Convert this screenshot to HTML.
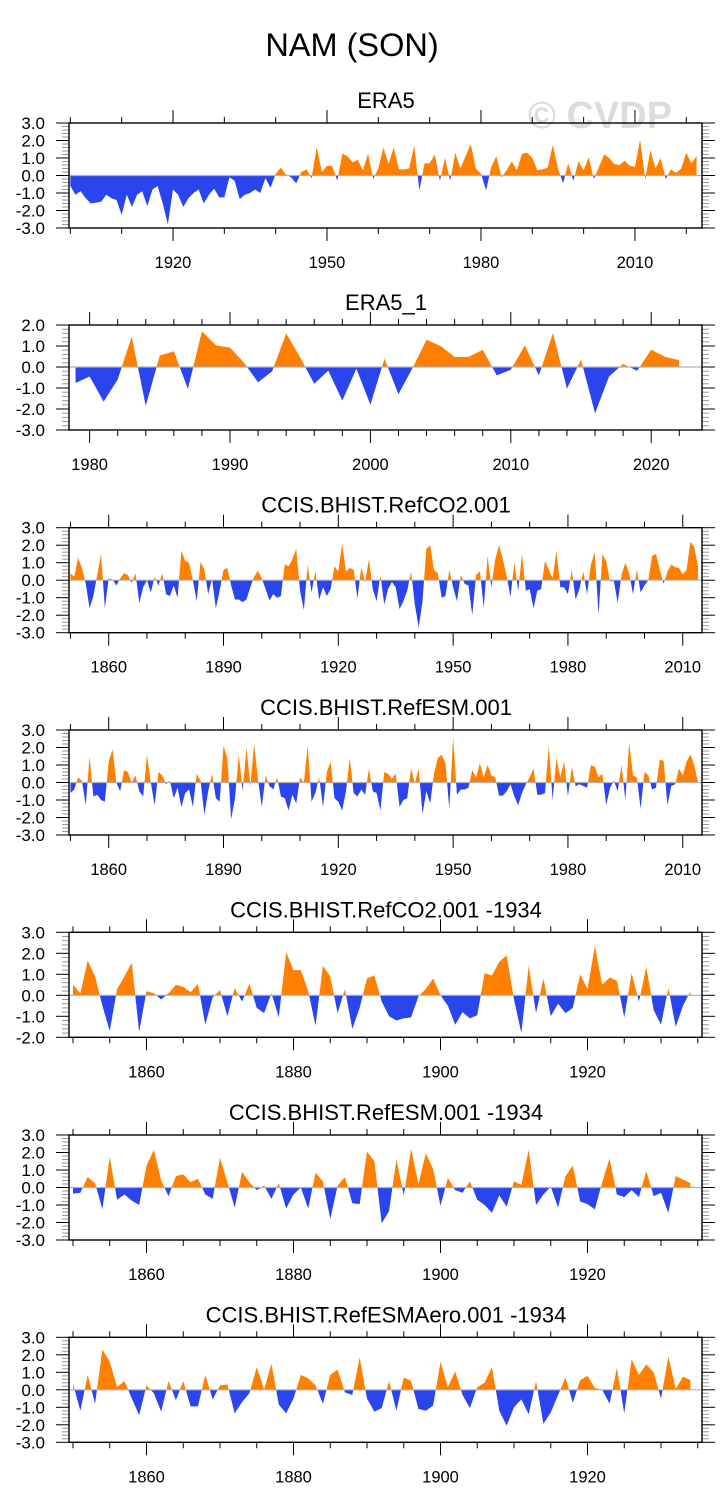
<!DOCTYPE html>
<html><head><meta charset="utf-8"><style>
html,body{margin:0;padding:0;background:#fff;}
svg{display:block;font-family:"Liberation Sans",sans-serif;}
</style></head><body>
<svg id="chart" width="728" height="1510" viewBox="0 0 728 1510" xmlns="http://www.w3.org/2000/svg">
<text x="352" y="56" font-size="32.5" text-anchor="middle">NAM (SON)</text>
<text x="600" y="128" font-size="38" font-weight="bold" fill="#dcdcdc" text-anchor="middle">© CVDP</text>
</svg>
<script>
const titles = ["ERA5","ERA5_1","CCIS.BHIST.RefCO2.001","CCIS.BHIST.RefESM.001","CCIS.BHIST.RefCO2.001 -1934","CCIS.BHIST.RefESM.001 -1934","CCIS.BHIST.RefESMAero.001 -1934"];
const startYears = [1900,1979,1850,1850,1850,1850,1850];
const era5 = [-0.6,-1.1,-0.9,-1.3,-1.6,-1.55,-1.5,-1.1,-1.3,-1.4,-2.25,-1.1,-1.8,-1.1,-0.9,-1.75,-0.8,-0.6,-1.6,-2.8,-0.8,-1.1,-1.8,-1.3,-1.0,-0.8,-1.6,-1.1,-0.75,-1.25,-1.25,-0.1,-0.3,-1.35,-1.1,-1.0,-0.8,-1.0,-0.15,-0.7,0.1,0.45,0.05,-0.1,-0.45,0.2,0.35,-0.15,1.65,0.2,0.55,0.55,-0.3,1.25,1.1,0.75,0.9,0.3,1.25,-0.2,0.4,1.6,0.65,1.6,0.35,0.35,0.4,1.7,-0.85,0.7,0.7,1.2,-0.3,1.0,-0.3,1.3,0.4,1.1,1.8,0.4,0.1,-0.85,0.5,1.1,-0.1,0.3,0.8,0.3,1.25,1.3,1.0,0.3,0.35,0.45,1.75,0.4,-0.45,0.7,-0.3,0.8,0.3,1.05,-0.2,0.5,1.2,1.0,0.65,0.6,0.85,0.55,0.5,2.05,-0.2,1.45,0.4,1.0,-0.2,0.35,0.15,0.4,1.3,0.7,1.1];
const era5_1 = [-0.76,-0.45,-1.65,-0.6,1.45,-1.85,0.55,0.75,-1.05,1.7,1.03,0.92,0.2,-0.73,-0.2,1.6,0.45,-0.8,-0.17,-1.6,-0.08,-1.8,0.4,-1.3,-0.05,1.3,1.0,0.48,0.48,0.82,-0.4,-0.13,1.03,-0.4,1.62,-1.03,0.35,-2.2,-0.45,0.15,-0.18,0.83,0.48,0.32];
const refCO2 = [0.4,0.2,1.3,0.7,-0.2,-1.6,-0.9,0.3,1.5,-1.6,0.1,0.05,-0.3,0.1,0.4,0.3,-0.15,0.4,-1.3,-0.4,0.0,-0.7,0.2,-0.3,0.4,-0.8,-0.9,-0.3,-1.0,1.7,1.1,1.0,0.0,-1.2,1.05,0.6,-0.8,0.1,-1.6,-0.6,0.6,0.7,-0.3,-1.1,-1.1,-1.25,-1.1,-0.4,0.2,0.55,0.1,-0.5,-1.15,-0.8,-1.0,-0.9,0.9,0.8,1.2,1.8,-0.6,-1.7,0.9,-0.7,0.5,-1.1,-0.4,-0.9,-0.5,0.8,0.5,2.1,0.5,0.7,0.6,-1.05,0.75,-0.1,1.2,-0.5,-1.2,0.3,-1.4,-0.5,-0.1,-0.4,-1.65,-1.2,-0.6,0.5,-1.4,-2.7,-1.2,1.8,2.0,0.6,0.4,-1.0,-0.9,0.6,-0.4,-1.2,0.3,-0.2,-0.3,-2.0,0.3,0.5,-1.6,1.4,-0.4,1.2,2.0,1.2,0.2,-0.95,1.0,-0.6,1.5,-0.6,-0.5,-1.6,-0.6,-0.5,1.1,0.6,0.1,1.7,-0.4,-0.4,-0.8,0.6,-1.1,-0.5,0.5,-0.8,0.9,1.6,-2.0,1.5,1.1,-0.05,-0.05,-1.3,0.3,1.0,0.4,-0.8,0.6,-0.7,-0.3,0.0,1.4,1.5,0.6,-0.2,0.5,0.9,0.75,0.7,0.35,0.6,2.2,1.9,0.8];
const refESM = [-0.6,-0.4,0.3,0.1,-1.3,1.5,-0.8,-0.7,-1.0,-1.1,1.2,1.9,0.0,-0.5,0.7,0.6,0.0,0.4,-0.5,-0.8,1.6,0.0,-1.3,0.6,0.4,-0.1,0.1,-0.9,-0.3,-1.4,-0.6,-0.4,-1.4,0.5,0.1,-1.85,-0.5,0.5,-0.9,-1.1,2.1,1.4,-2.1,-0.9,1.6,-0.5,2.0,-0.2,2.2,0.2,-1.4,0.4,-0.2,-0.4,0.3,-0.8,-0.9,-1.6,-0.7,-1.2,0.3,0.0,2.1,-1.1,-0.6,0.3,-1.4,0.6,1.2,-0.9,-1.1,-1.6,-0.5,1.4,-0.6,-0.8,-0.4,-0.7,0.8,-0.5,-0.6,-1.6,0.6,0.5,0.2,0.5,-1.4,-1.0,-0.9,0.8,-0.05,0.8,-1.8,-0.5,-1.2,0.5,1.4,1.6,1.1,-1.5,2.6,-0.7,-0.4,-0.4,-0.3,0.7,0.3,1.1,0.3,1.0,0.4,0.3,-0.75,-0.75,-0.5,-0.1,-0.8,-1.3,-0.6,-0.1,0.3,0.8,-0.7,-0.7,-0.6,2.1,-1.0,1.4,0.3,1.2,-0.8,0.9,-0.2,-0.1,-0.2,-0.3,1.0,0.9,0.3,0.5,-1.3,-0.3,0.1,-0.5,1.0,-1.0,2.3,0.4,0.3,-1.5,0.6,0.4,-0.4,-0.3,1.3,1.25,-1.3,-0.2,-0.1,0.8,0.4,1.2,1.6,1.0,0.0];
const refCO2_1934 = [0.5,0.1,1.65,0.9,-0.5,-1.7,0.3,0.9,1.55,-1.75,0.2,0.1,-0.2,0.1,0.5,0.4,0.15,0.55,-1.4,-0.1,0.25,-1.0,0.35,-0.3,0.55,-0.6,-0.85,0.1,-1.05,2.05,1.2,1.2,0.2,-1.45,1.4,0.9,-0.85,0.3,-1.6,-0.6,0.8,0.95,-0.3,-1.0,-1.2,-1.1,-1.05,-0.05,0.3,0.8,0.0,-0.5,-1.4,-0.8,-1.1,-0.95,1.05,0.95,1.6,1.9,-0.2,-1.8,1.4,-0.85,0.8,-1.0,-0.4,-0.85,-0.6,1.0,0.3,2.35,0.5,0.85,0.7,-1.05,1.05,-0.3,1.35,-0.7,-1.4,0.35,-1.5,-0.5,0.2];
const refESM_1934 = [-0.35,-0.3,0.6,0.25,-1.25,1.75,-0.7,-0.4,-0.75,-1.0,1.25,2.15,0.4,-0.5,0.65,0.75,0.3,0.5,-0.4,-0.65,1.7,0.3,-1.15,0.9,0.3,-0.15,0.1,-0.65,0.25,-1.2,-0.4,0.0,-1.2,0.85,0.35,-1.8,0.1,0.6,-0.9,-0.95,2.05,1.5,-2.05,-1.35,1.6,-0.45,2.2,0.2,1.95,1.05,-1.05,0.55,-0.15,-0.3,0.35,-0.7,-1.0,-1.45,-0.45,-1.1,0.35,0.15,2.15,-1.0,-0.4,0.05,-1.15,0.65,1.25,-0.8,-0.95,-1.25,0.3,1.65,-0.4,-0.55,-0.15,-0.55,0.95,-0.5,-0.3,-1.45,0.65,0.45,0.25];
const refESMAero_1934 = [0.35,-1.2,0.85,-0.8,2.3,1.6,0.15,0.5,-0.5,-1.45,0.25,-0.2,-1.25,0.5,-0.6,0.5,-0.95,-0.95,0.85,-0.55,0.25,0.3,-1.35,-0.7,-0.2,1.3,0.0,1.5,-0.85,-1.35,-0.5,0.85,0.65,0.25,-0.8,0.85,1.15,-0.15,-0.3,1.85,-0.5,-1.25,-1.05,0.5,-1.2,0.7,0.5,-1.1,-1.2,-0.9,1.6,0.15,1.05,-0.3,-1.05,0.15,0.4,1.3,-1.2,-2.05,-1.0,-0.55,-1.4,0.5,-1.95,-1.3,-0.3,0.7,-0.75,0.55,0.8,0.1,0.0,-0.8,1.25,-1.35,1.75,0.85,1.45,1.0,-0.5,1.9,0.05,0.75,0.55];
const yMins = [-3,-3,-3,-3,-2,-3,-3];
const yMaxs = [3,2,3,3,3,3,3];
const xTickLabels = [[1920,1950,1980,2010],[1980,1990,2000,2010,2020],[1860,1890,1920,1950,1980,2010],[1860,1890,1920,1950,1980,2010],[1860,1880,1900,1920],[1860,1880,1900,1920],[1860,1880,1900,1920]];
const series = [era5, era5_1, refCO2, refESM, refCO2_1934, refESM_1934, refESMAero_1934];

// layout (not data)
const layout = [
 {top:123, bottom:228, x0yr:1920, x0px:173, pxPerYr:5.133, minorStep:10, tMin:1900, tMax:2020},
 {top:325, bottom:430, x0yr:1980, x0px:89.6, pxPerYr:14.04, minorStep:2, tMin:1980, tMax:2022},
 {top:527.7, bottom:632.7, x0yr:1860, x0px:108.7, pxPerYr:3.827, minorStep:10, tMin:1850, tMax:2010},
 {top:730, bottom:835, x0yr:1860, x0px:108.7, pxPerYr:3.827, minorStep:10, tMin:1850, tMax:2010},
 {top:932.3, bottom:1037.3, x0yr:1860, x0px:146.5, pxPerYr:7.35, minorStep:5, tMin:1850, tMax:1935},
 {top:1135, bottom:1240, x0yr:1860, x0px:146.5, pxPerYr:7.35, minorStep:5, tMin:1850, tMax:1935},
 {top:1337.3, bottom:1442.3, x0yr:1860, x0px:146.5, pxPerYr:7.35, minorStep:5, tMin:1850, tMax:1935}
];
const NS = "http://www.w3.org/2000/svg";
const svg = document.getElementById('chart');
const L = 69, R = 702;
function mk(tag, attrs, parent){ const e = document.createElementNS(NS, tag); for (const k in attrs) e.setAttribute(k, attrs[k]); (parent||svg).appendChild(e); return e; }

for (let p = 0; p < 7; p++) {
  const lay = layout[p], data = series[p];
  const ymin = yMins[p], ymax = yMaxs[p];
  const yS = v => lay.bottom - (v - ymin) / (ymax - ymin) * (lay.bottom - lay.top);
  const xS = yr => lay.x0px + (yr - lay.x0yr) * lay.pxPerYr;
  const g = mk('g', {});
  
  
  const t = mk('text', {x:386, y:lay.top - 15, 'font-size':22, 'text-anchor':'middle'}, g);
  
  
  t.textContent = titles[p];

  // clip paths
  const y0 = yS(0);
  const cpA = mk('clipPath', {id:'ca'+p}, g); mk('rect', {x:L, y:lay.top, width:R-L, height:y0-lay.top}, cpA);
  const cpB = mk('clipPath', {id:'cb'+p}, g); mk('rect', {x:L, y:y0, width:R-L, height:lay.bottom-y0}, cpB);
  let d = 'M' + xS(startYears[p]) + ',' + y0;
  data.forEach((v,i) => { d += ' L' + xS(startYears[p]+i).toFixed(2) + ',' + yS(v).toFixed(2); });
  d += ' L' + xS(startYears[p]+data.length-1).toFixed(2) + ',' + y0 + ' Z';
  const pa = mk('path', {d:d, fill:'#ff8000', 'clip-path':'url(#ca'+p+')'}, g);
  
  
  const pb = mk('path', {d:d, fill:'#2a45ee', 'clip-path':'url(#cb'+p+')'}, g);
  
  
  const zl = mk('line', {x1:L, x2:R, y1:y0, y2:y0, stroke:'#b0b0b0', 'stroke-width':1.2}, g);
  
  

  // y ticks
  for (let k = Math.round(ymin*5); k <= Math.round(ymax*5); k++) {
    const v = k/5, y = yS(v), major = (k % 5 === 0);
    const len = major ? 13 : 7, col = major ? '#000' : '#999';
    mk('line', {x1:L-len, x2:L, y1:y, y2:y, stroke:col, 'stroke-width':1}, g);
    mk('line', {x1:R, x2:R+len, y1:y, y2:y, stroke:col, 'stroke-width':1}, g);
    if (major) {
      const lb = mk('text', {x:45, y:y+6, 'font-size':17, 'text-anchor':'end'}, g);
      
      
      lb.textContent = v.toFixed(1);
    }
  }
  // x ticks
  for (let yr = lay.tMin; yr <= lay.tMax; yr += lay.minorStep) {
    const x = xS(yr); if (x < L-0.5 || x > R+0.5) continue;
    const major = xTickLabels[p].includes(yr), len = major ? 13 : 6;
    mk('line', {x1:x, x2:x, y1:lay.bottom, y2:lay.bottom+len, stroke:'#000', 'stroke-width':1}, g);
    mk('line', {x1:x, x2:x, y1:lay.top-len, y2:lay.top, stroke:'#000', 'stroke-width':1}, g);
  }
  xTickLabels[p].forEach(yr => {
    const lb = mk('text', {x:xS(yr), y:lay.bottom+40, 'font-size':16.5, 'text-anchor':'middle'}, g);
    
    
    lb.textContent = yr;
  });
  const bx = mk('rect', {x:L, y:lay.top, width:R-L, height:lay.bottom-lay.top, fill:'none', stroke:'#000', 'stroke-width':1.4}, g);
  
  
}
</script>
</body></html>
